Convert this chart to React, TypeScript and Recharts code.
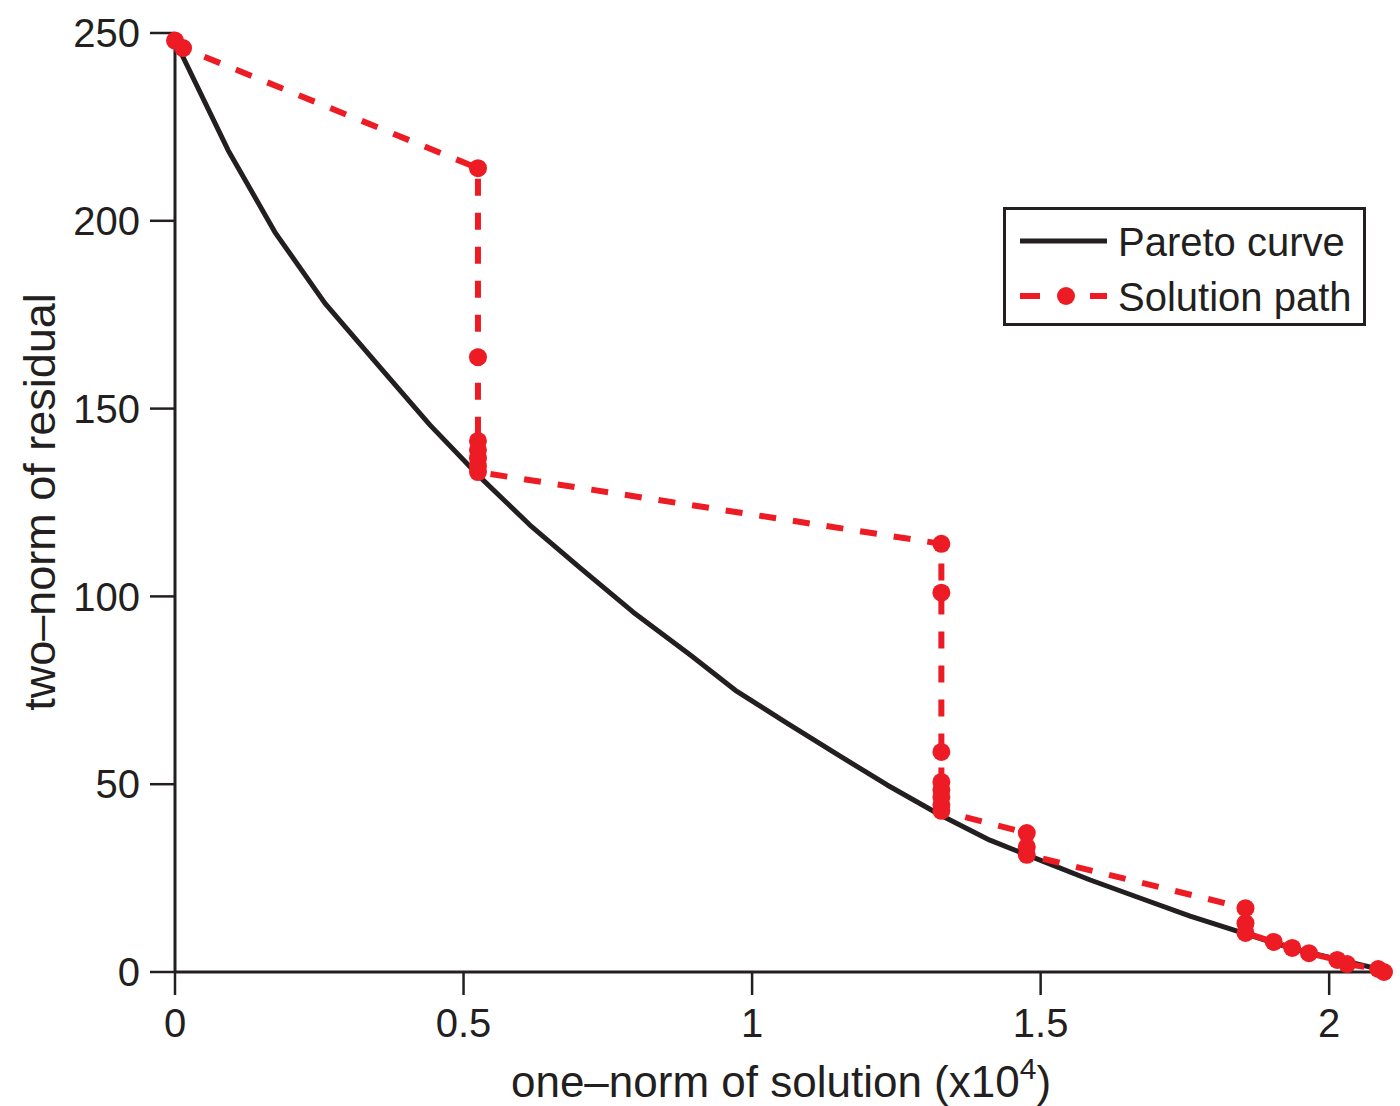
import React from "react";
import { LineChart, Line, XAxis, YAxis, Legend, Label } from "recharts";

// Pareto curve (x in units of 10^4)
const paretoX = [0, 0.092, 0.173, 0.26, 0.352, 0.442, 0.525, 0.615, 0.702, 0.794, 0.893, 0.971, 1.057, 1.149, 1.234, 1.326, 1.412, 1.499, 1.586, 1.672, 1.759, 1.846, 1.932, 2.019, 2.094];
const paretoY = [248, 218.8, 197, 178, 161.6, 145.6, 132.3, 119, 107.6, 95.8, 84.4, 75, 66.6, 57.8, 49.8, 41.8, 35.1, 29.8, 24.5, 19.7, 14.9, 10.6, 6.4, 3.2, 0.5];

// solution path iterates
const pathX = [0, 0.014, 0.525, 0.525, 0.525, 0.525, 0.525, 0.525, 0.525, 1.328, 1.328, 1.328, 1.328, 1.328, 1.328, 1.328, 1.328, 1.476, 1.476, 1.476, 1.855, 1.855, 1.855, 1.904, 1.936, 1.965, 2.014, 2.031, 2.085, 2.095];
const pathY = [248, 246, 214, 163.7, 141.4, 139, 136.8, 134.7, 133.1, 114, 101, 58.6, 50.6, 48.5, 46.6, 44.5, 42.9, 37, 33.3, 31.2, 17, 13, 10.4, 8, 6.4, 5, 3.2, 2.1, 0.8, 0];

const xTicks = [0, 0.5, 1, 1.5, 2];
const yTicks = [0, 50, 100, 150, 200, 250];

const INK = '#231f20';
const RED = '#ed1c24';
const FONT = '"Liberation Sans", Arial, sans-serif';

const paretoData = paretoX.map((x, i) => ({ x, y: paretoY[i] }));
const pathData = pathX.map((x, i) => ({ x, y: pathY[i] }));

const LegendBox = () => (
  <svg width={363} height={119} style={{ display: 'block' }}>
    <rect x={1.5} y={1.5} width={360} height={116} fill="#fff" stroke={INK} strokeWidth={3} />
    <line x1={17} y1={34} x2={104} y2={34} stroke={INK} strokeWidth={5} />
    <text x={115} y={49} fontSize={40} fill={INK} fontFamily={FONT}>Pareto curve</text>
    <line x1={17} y1={89} x2={37} y2={89} stroke={RED} strokeWidth={6} />
    <circle cx={63} cy={89} r={9} fill={RED} />
    <line x1={87} y1={89} x2={104} y2={89} stroke={RED} strokeWidth={6} />
    <text x={115} y={104} fontSize={40} fill={INK} fontFamily={FONT}>Solution path</text>
  </svg>
);

const App: React.FC = () => {
  return (
    <div style={{ position: 'absolute', left: 0, top: 0, width: 1400, height: 1106, background: '#fff' }}>
      <LineChart
        width={1400}
        height={1106}
        margin={{ top: 33, right: 16, left: 75, bottom: 54 }}
      >
        <XAxis
          type="number"
          dataKey="x"
          domain={[0, 2.095]}
          ticks={xTicks}
          height={80}
          tickSize={23}
          tickMargin={14}
          axisLine={{ stroke: INK, strokeWidth: 3 }}
          tickLine={{ stroke: INK, strokeWidth: 2.5 }}
          tick={{ fontSize: 40, fill: INK, fontFamily: FONT }}
        >
          <Label
            content={() => (
              <text x={781} y={1097} textAnchor="middle" fontSize={44} fill={INK} fontFamily={FONT}>
                one–norm of solution (x10
                <tspan fontSize={30} dy={-18}>4</tspan>
                <tspan dy={18}>)</tspan>
              </text>
            )}
          />
        </XAxis>
        <YAxis
          type="number"
          dataKey="y"
          domain={[0, 250]}
          ticks={yTicks}
          width={100}
          tickSize={25}
          tickMargin={10}
          axisLine={{ stroke: INK, strokeWidth: 3 }}
          tickLine={{ stroke: INK, strokeWidth: 2.5 }}
          tick={{ fontSize: 40, fill: INK, fontFamily: FONT }}
        >
          <Label
            content={() => (
              <text
                x={55}
                y={502}
                transform="rotate(-90 55 502)"
                textAnchor="middle"
                fontSize={45}
                fill={INK}
                fontFamily={FONT}
              >
                two–norm of residual
              </text>
            )}
          />
        </YAxis>
        <Legend
          layout="horizontal"
          verticalAlign="middle"
          align="center"
          wrapperStyle={{ left: 1003, top: 207, width: 363, height: 119 }}
          content={() => <LegendBox />}
        />
        <Line
          data={paretoData}
          dataKey="y"
          type="linear"
          stroke={INK}
          strokeWidth={5}
          strokeLinejoin="round"
          dot={false}
          activeDot={false}
          isAnimationActive={false}
          name="Pareto curve"
        />
        <Line
          data={pathData}
          dataKey="y"
          type="linear"
          stroke={RED}
          strokeWidth={6}
          strokeDasharray="17 17"
          dot={{ r: 9, fill: RED, stroke: 'none' }}
          activeDot={false}
          isAnimationActive={false}
          name="Solution path"
        />
      </LineChart>
    </div>
  );
};

export default App;
